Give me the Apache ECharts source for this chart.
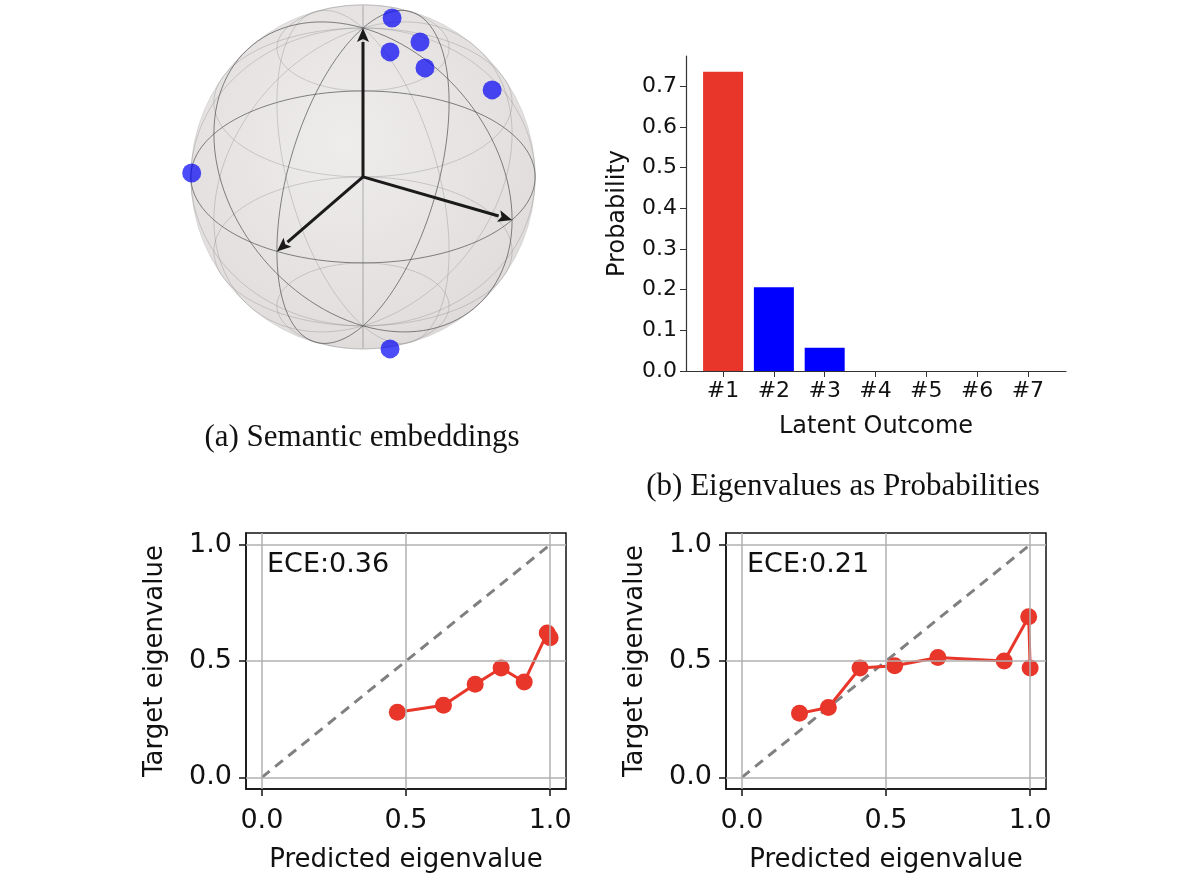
<!DOCTYPE html>
<html><head><meta charset="utf-8">
<script src="https://cdn.jsdelivr.net/npm/echarts@6/dist/echarts.min.js"></script>
<style>html,body{margin:0;padding:0;background:#fff}#c{width:1200px;height:891px}</style>
</head><body><div id="c"></div>
<script>
// ---- data ----
var outcomeLabels = ['#1','#2','#3','#4','#5','#6','#7'];
var outcomeProb = [0.735, 0.206, 0.057, 0, 0, 0, 0];
var outcomeColors = ['#e8372a','#0000ff','#0000ff','#0000ff','#0000ff','#0000ff','#0000ff'];
var calibTicks = [0, 0.5, 1.0];
var predA = [0.47, 0.63, 0.74, 0.83, 0.91, 0.99, 1.0];
var targA = [0.28, 0.31, 0.40, 0.47, 0.41, 0.62, 0.60];
var predB = [0.20, 0.30, 0.41, 0.53, 0.68, 0.91, 0.995, 1.0];
var targB = [0.275, 0.30, 0.47, 0.48, 0.515, 0.50, 0.69, 0.47];
var eceA = 'ECE:0.36', eceB = 'ECE:0.21';
// embedding points, projected onto the view plane (unit sphere radius)
var embedU = [0.169, 0.331, 0.157, 0.360, 0.750, -0.995, 0.157];
var embedV = [0.924, 0.785, 0.727, 0.634, 0.506, 0.023, -1.0];

// ---- sphere projection geometry ----
var el = 30*Math.PI/180, az = 30*Math.PI/180;
function proj(x,y,z){
  return [-x*Math.sin(az)+y*Math.cos(az), z*Math.cos(el)-(x*Math.cos(az)+y*Math.sin(az))*Math.sin(el)];
}
var wire = [];
function addCurve(f, style){
  var pts=[]; for(var i=0;i<=120;i++){var t=i/120*2*Math.PI; pts.push(f(t));}
  wire.push({type:'line',xAxisIndex:0,yAxisIndex:0,data:pts,showSymbol:false,silent:true,
    lineStyle:style,z:3,animation:false});
}
var faint={color:'rgba(120,120,120,0.3)',width:1}, dark={color:'rgba(80,80,80,0.7)',width:1};
for (var lat=-60; lat<=60; lat+=30){
  (function(la){var r=Math.cos(la*Math.PI/180), h=Math.sin(la*Math.PI/180);
    addCurve(function(t){return proj(r*Math.cos(t), r*Math.sin(t), h);}, la===0?dark:faint);})(lat);
}
for (var lon=0; lon<180; lon+=30){
  (function(lo){var c=Math.cos(lo*Math.PI/180), s=Math.sin(lo*Math.PI/180);
    addCurve(function(t){return proj(Math.cos(t)*c, Math.cos(t)*s, Math.sin(t));}, (lo===0||lo===90)?dark:faint);})(lon);
}
var axesEnds=[proj(1,0,0),proj(0,1,0),proj(0,0,1)];

var chart = echarts.init(document.getElementById('c'));
var tickFont = {fontFamily:'DejaVu Sans', fontSize:27, color:'#111'};
function calibAxes(i){
  return {
    x:{type:'value',gridIndex:i,min:-0.055,max:1.055,
      axisLine:{show:true,onZero:false,lineStyle:{color:'#111',width:1.5}},
      axisTick:{show:true,customValues:calibTicks,length:7,lineStyle:{color:'#111',width:1.5}},
      axisLabel:Object.assign({customValues:calibTicks,margin:18,formatter:function(v){return v.toFixed(1);}},tickFont),
      splitLine:{show:false},name:'Predicted eigenvalue',nameLocation:'middle',nameGap:58,
      nameTextStyle:{fontFamily:'DejaVu Sans',fontSize:26,color:'#111'}},
    y:{type:'value',gridIndex:i,min:-0.05,max:1.05,
      axisLine:{show:true,onZero:false,lineStyle:{color:'#111',width:1.5}},
      axisTick:{show:true,customValues:calibTicks,length:7,lineStyle:{color:'#111',width:1.5}},
      axisLabel:Object.assign({customValues:calibTicks,margin:14,formatter:function(v){return v.toFixed(1);}},tickFont),
      splitLine:{show:false},name:'Target eigenvalue',nameLocation:'middle',nameGap:78,
      nameTextStyle:{fontFamily:'DejaVu Sans',fontSize:26,color:'#111'}}
  };
}
var ca=calibAxes(2), cb=calibAxes(3);
function gridLines(xi){
  return {type:'line',xAxisIndex:xi,yAxisIndex:xi,data:[],silent:true,
    markLine:{silent:true,symbol:'none',animation:false,label:{show:false},
      lineStyle:{color:'#b0b0b0',width:1.5,type:'solid'},
      data:calibTicks.map(function(v){return {xAxis:v};}).concat(calibTicks.map(function(v){return {yAxis:v};}))}};
}
function calibSeries(xi,p,t){
  return [gridLines(xi),
    {type:'line',xAxisIndex:xi,yAxisIndex:xi,data:[[0,0],[1,1]],showSymbol:false,
      lineStyle:{color:'#808080',width:3,type:[10,7]},z:3},
    {type:'line',xAxisIndex:xi,yAxisIndex:xi,data:p.map(function(v,i){return [v,t[i]];}),
      symbol:'circle',symbolSize:17,itemStyle:{color:'#e8372a'},lineStyle:{color:'#e8372a',width:3},z:4}];
}

var option = {
  animation:false,
  title:[
    {text:'(a) Semantic embeddings',left:357,top:417,textAlign:'center',textStyle:{fontFamily:'Liberation Serif',fontSize:31,fontWeight:'normal',color:'#111'}},
    {text:'(b) Eigenvalues as Probabilities',left:838,top:466,textAlign:'center',textStyle:{fontFamily:'Liberation Serif',fontSize:31,fontWeight:'normal',color:'#111'}},
    {text:eceA,left:262,top:546,textStyle:{fontFamily:'DejaVu Sans',fontSize:27,fontWeight:'normal',color:'#111'}},
    {text:eceB,left:742,top:546,textStyle:{fontFamily:'DejaVu Sans',fontSize:27,fontWeight:'normal',color:'#111'}}
  ],
  grid:[
    {left:165,top:1.5,width:396,height:373.2},
    {left:686,right:134,top:56,bottom:520},
    {left:246,width:320,top:533,bottom:102,show:true,borderColor:'#111',borderWidth:1.5},
    {left:726,width:320,top:533,bottom:102,show:true,borderColor:'#111',borderWidth:1.5}
  ],
  xAxis:[
    {type:'value',gridIndex:0,min:-1.15,max:1.15,show:false},
    {type:'value',gridIndex:1,min:-0.73,max:6.75,
      axisLine:{show:true,onZero:false,lineStyle:{color:'#333',width:1.2}},
      axisTick:{show:true,customValues:[0,1,2,3,4,5,6],length:6,lineStyle:{color:'#333'}},
      axisLabel:{customValues:[0,1,2,3,4,5,6],formatter:function(v){return outcomeLabels[Math.round(v)];},fontFamily:'DejaVu Sans',fontSize:22,color:'#111',margin:9},
      splitLine:{show:false},name:'Latent Outcome',nameLocation:'middle',nameGap:44,
      nameTextStyle:{fontFamily:'DejaVu Sans',fontSize:24,color:'#111'}},
    ca.x, cb.x
  ],
  yAxis:[
    {type:'value',gridIndex:0,min:-1.15,max:1.02,show:false},
    {type:'value',gridIndex:1,min:0,max:0.774,interval:0.1,
      axisLine:{show:true,onZero:false,lineStyle:{color:'#333',width:1.2}},
      axisTick:{show:true,length:6,lineStyle:{color:'#333'}},
      axisLabel:{formatter:function(v){return v>0.75?'':v.toFixed(1);},fontFamily:'DejaVu Sans',fontSize:22,color:'#111',margin:9,showMaxLabel:false},
      splitLine:{show:false},name:'Probability',nameLocation:'middle',nameGap:56,
      nameTextStyle:{fontFamily:'DejaVu Sans',fontSize:24,color:'#111'}},
    ca.y, cb.y
  ],
  series: [
    {type:'custom',xAxisIndex:0,yAxisIndex:0,data:[[0,0]],z:1,silent:true,
      renderItem:function(params,api){
        var c=api.coord([0,0]); var r=api.size([1,1])[0];
        return {type:'circle',shape:{cx:c[0],cy:c[1],r:r},
          style:{fill:{type:'radial',x:0.45,y:0.4,r:0.7,colorStops:[{offset:0,color:'#efecec'},{offset:0.8,color:'#e2dede'},{offset:1,color:'#d8d4d4'}]},stroke:'rgba(200,200,200,0.6)',lineWidth:1}};
      }}
  ].concat(wire).concat([
    {type:'custom',xAxisIndex:0,yAxisIndex:0,data:axesEnds,z:5,silent:true,
      renderItem:function(params,api){
        var o=api.coord([0,0]), e=api.coord([api.value(0),api.value(1)]);
        var dx=e[0]-o[0], dy=e[1]-o[1], L=Math.sqrt(dx*dx+dy*dy), ux=dx/L, uy=dy/L;
        var hl=14, hw=6, bx=e[0]-ux*hl, by=e[1]-uy*hl;
        return {type:'group',children:[
          {type:'line',shape:{x1:o[0],y1:o[1],x2:bx,y2:by},style:{stroke:'#1a1a1a',lineWidth:3}},
          {type:'polygon',shape:{points:[[e[0],e[1]],[bx-uy*hw,by+ux*hw],[bx+ux*3,by+uy*3],[bx+uy*hw,by-ux*hw]]},style:{fill:'#1a1a1a'}}
        ]};
      }},
    {type:'scatter',xAxisIndex:0,yAxisIndex:0,data:embedU.map(function(u,i){return [u,embedV[i]];}),
      symbolSize:19,itemStyle:{color:'rgba(0,0,245,0.88)'},z:6},
    {type:'bar',xAxisIndex:1,yAxisIndex:1,barWidth:40,
      data:outcomeProb.map(function(v,i){return {value:[i,v],itemStyle:{color:outcomeColors[i]}};})}
  ]).concat(calibSeries(2,predA,targA)).concat(calibSeries(3,predB,targB))
};
chart.setOption(option);
</script></body></html>
